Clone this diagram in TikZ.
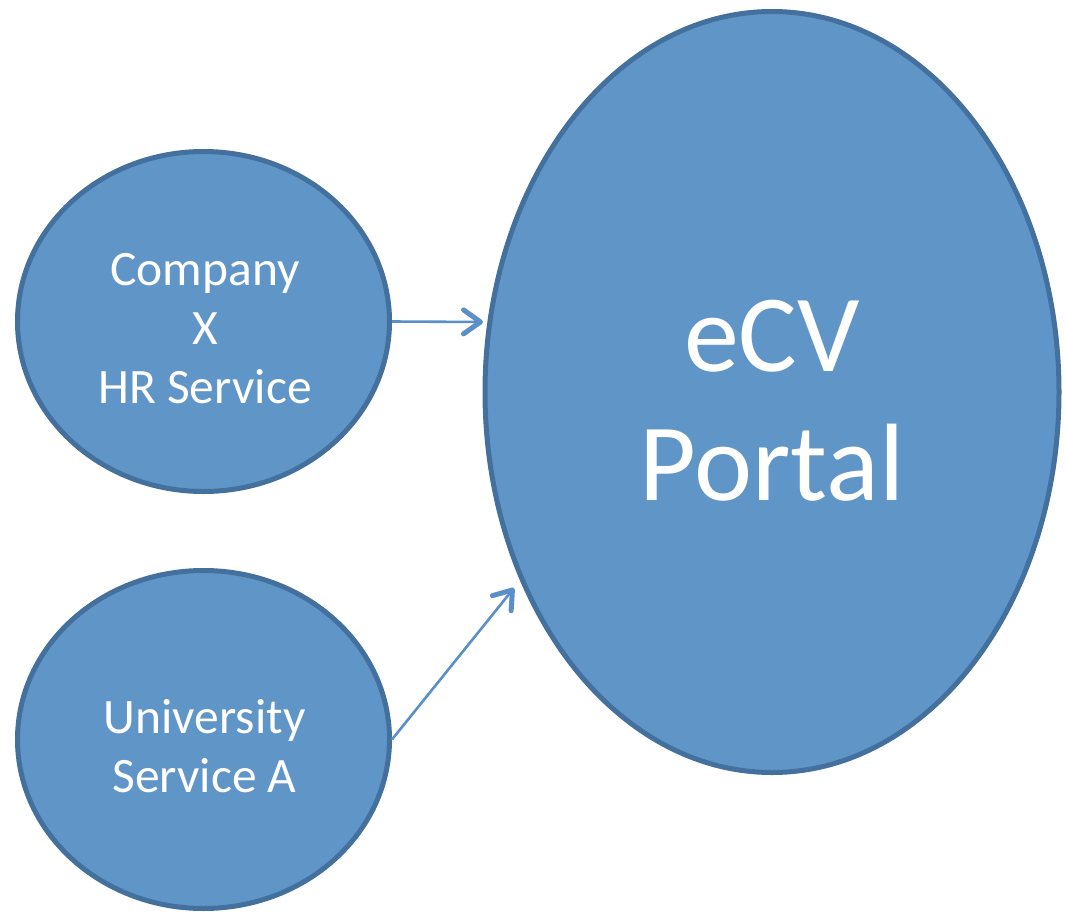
\documentclass[tikz,border=0pt]{standalone}
\usepackage{fontspec}
\setmainfont{Carlito}
\usetikzlibrary{shapes.geometric,arrows.meta}
\definecolor{fillblue}{HTML}{6095C8}
\definecolor{edgeblue}{HTML}{44709D}
\definecolor{arrowblue}{HTML}{5A8FCA}
\tikzset{
  bubble/.style={ellipse, draw=edgeblue, fill=fillblue, line width=5pt, inner sep=0pt},
  caption/.style={text=white, align=center, inner sep=0pt},
  smalltext/.style={font=\fontsize{49.5}{59}\selectfont},
  bigtext/.style={font=\fontsize{110}{129}\selectfont},
  link/.style={draw=arrowblue, line width=2.6pt,
    -{Straight Barb[length=17pt,width=24pt,line width=5pt,round]}}
}
\begin{document}
\begin{tikzpicture}[x=1pt,y=-1pt]
\useasboundingbox (0,0) rectangle (1066,913);
\node[bubble, minimum width=372pt, minimum height=340pt] (hr) at (203.5,321.5) {};
\node[bubble, minimum width=372pt, minimum height=338pt] (uni) at (203.5,739.5) {};
\node[bubble, minimum width=574pt, minimum height=761pt] (ecv) at (772,392) {};
\node[caption, smalltext] (hrtxt) at ([xshift=1.5pt,yshift=-7pt]hr.center) {Company\\X\\HR Service};
\node[caption, smalltext] (unitxt) at ([xshift=1pt,yshift=-6.5pt]uni.center) {University\\Service A};
\node[caption, bigtext] (ecvtxt) at ([yshift=-8.5pt]ecv.center) {eCV\\Portal};
\coordinate (a1) at (483,322);
\coordinate (a2) at (514,588);
\draw[link] (hr.east) -- (a1);
\draw[link] (uni.east) -- (a2);
\end{tikzpicture}
\end{document}
